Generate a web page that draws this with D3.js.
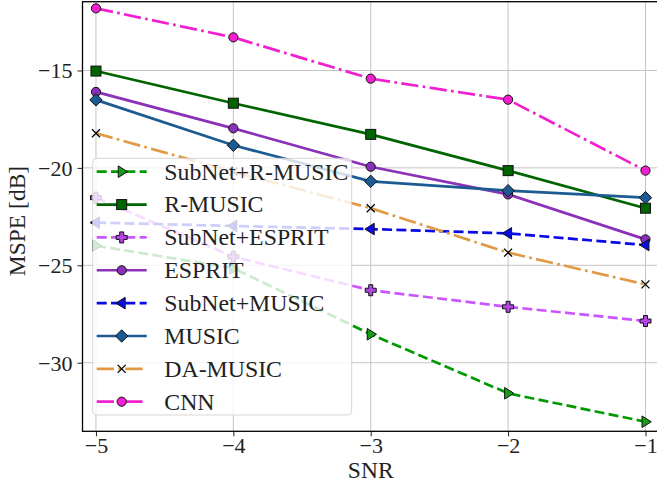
<!DOCTYPE html>
<html>
<head>
<meta charset="utf-8">
<script src="https://cdn.jsdelivr.net/npm/d3@7"></script>
<style>
  html, body { margin: 0; padding: 0; background: #fff; }
  svg { display: block; }
  text { font-family: "Liberation Serif", "Times New Roman", serif; fill: #222; }
</style>
</head>
<body>
<svg id="chart" width="657" height="489"></svg>
<script>
// ---- data ----
const snr = [-5, -4, -3, -2, -1];
const subnetRMusic = [-23.99, -25.15, -28.54, -31.57, -33.03];
const rMusic       = [-15.03, -16.68, -18.28, -20.14, -22.07];
const subnetEsprit = [-21.53, -24.56, -26.28, -27.13, -27.86];
const esprit       = [-16.10, -17.97, -19.94, -21.36, -23.67];
const subnetMusic  = [-22.81, -22.98, -23.14, -23.36, -23.96];
const music        = [-16.51, -18.84, -20.69, -21.17, -21.53];
const daMusic      = [-18.22, -20.20, -22.07, -24.35, -25.98];
const cnn          = [-11.81, -13.30, -15.42, -16.50, -20.14];
const seriesNames  = ["SubNet+R-MUSIC", "R-MUSIC", "SubNet+ESPRIT", "ESPRIT", "SubNet+MUSIC", "MUSIC", "DA-MUSIC", "CNN"];
const xTicks = [-5, -4, -3, -2, -1];
const yTicks = [-15, -20, -25, -30];
const xLabel = "SNR";
const yLabel = "MSPE [dB]";

// ---- styles ----
const styles = [
  {color: "#009a00", fill: "#1a9a1a", dash: "dashed", marker: "triR"},
  {color: "#006400", fill: "#006400", dash: "solid",  marker: "square"},
  {color: "#cc55ff", fill: "#b444e6", dash: "dashed", marker: "plus"},
  {color: "#8b30b8", fill: "#8b30b8", dash: "solid",  marker: "circle"},
  {color: "#0a0ae6", fill: "#0a0ae6", dash: "dashed", marker: "triL"},
  {color: "#1c5a92", fill: "#1c5a92", dash: "solid",  marker: "diamond"},
  {color: "#e09a45", fill: "none",    dash: "dashdot", marker: "x"},
  {color: "#f020d0", fill: "#f020d0", dash: "dashdot", marker: "circle"}
];
const seriesValues = [subnetRMusic, rMusic, subnetEsprit, esprit, subnetMusic, music, daMusic, cnn];

const LW = 2.7;
const dashMap = {
  solid: null,
  dashed: `${3.7*LW},${1.6*LW}`,
  dashdot: `${6.4*LW},${1.6*LW},${1*LW},${1.6*LW}`
};

const svg = d3.select("#chart");
const pL = 82.5, pR = 659.5, pT = 1.7, pB = 431.3;

const x = d3.scaleLinear().domain([-5.098, -0.898]).range([pL, pR]);
const y = d3.scaleLinear().domain([-33.52, -11.47]).range([pB, pT]);

// grid
const grid = svg.append("g");
grid.selectAll("line.gx").data(xTicks).enter().append("line")
  .attr("x1", d => x(d)).attr("x2", d => x(d)).attr("y1", pT).attr("y2", pB)
  .attr("stroke", "#c4c4c4").attr("stroke-width", 1);
grid.selectAll("line.gy").data(yTicks).enter().append("line")
  .attr("y1", d => y(d)).attr("y2", d => y(d)).attr("x1", pL).attr("x2", pR)
  .attr("stroke", "#c4c4c4").attr("stroke-width", 1);

// markers
function drawMarker(g, type, cx, cy, st) {
  const edge = "#111";
  const ew = 1;
  if (type === "circle") {
    g.append("circle").attr("cx", cx).attr("cy", cy).attr("r", 4.6)
      .attr("fill", st.fill).attr("stroke", edge).attr("stroke-width", ew);
  } else if (type === "square") {
    g.append("rect").attr("x", cx-5).attr("y", cy-5).attr("width", 10).attr("height", 10)
      .attr("fill", st.fill).attr("stroke", edge).attr("stroke-width", ew);
  } else if (type === "diamond") {
    const r = 6.2;
    g.append("path").attr("d", `M${cx},${cy-r}L${cx+r},${cy}L${cx},${cy+r}L${cx-r},${cy}Z`)
      .attr("fill", st.fill).attr("stroke", edge).attr("stroke-width", ew);
  } else if (type === "triR") {
    const r = 5.8;
    g.append("path").attr("d", `M${cx+r},${cy}L${cx-r*0.6},${cy-r}L${cx-r*0.6},${cy+r}Z`)
      .attr("fill", st.fill).attr("stroke", edge).attr("stroke-width", ew);
  } else if (type === "triL") {
    const r = 5.8;
    g.append("path").attr("d", `M${cx-r},${cy}L${cx+r*0.6},${cy-r}L${cx+r*0.6},${cy+r}Z`)
      .attr("fill", st.fill).attr("stroke", edge).attr("stroke-width", ew);
  } else if (type === "plus") {
    const a = 5.5, b = 2;
    g.append("path").attr("d",
      `M${cx-b},${cy-a}H${cx+b}V${cy-b}H${cx+a}V${cy+b}H${cx+b}V${cy+a}H${cx-b}V${cy+b}H${cx-a}V${cy-b}H${cx-b}Z`)
      .attr("fill", st.fill).attr("stroke", edge).attr("stroke-width", ew);
  } else if (type === "x") {
    const a = 4;
    g.append("path").attr("d", `M${cx-a},${cy-a}L${cx+a},${cy+a}M${cx-a},${cy+a}L${cx+a},${cy-a}`)
      .attr("stroke", "#000").attr("stroke-width", 1.3).attr("fill", "none");
  }
}

const plot = svg.append("g");
const lineGen = d3.line().x(d => x(d[0])).y(d => y(d[1]));
seriesValues.forEach((vals, i) => {
  const st = styles[i];
  const pts = snr.map((s, j) => [s, vals[j]]);
  const g = plot.append("g");
  g.append("path").attr("d", lineGen(pts))
    .attr("fill", "none").attr("stroke", st.color).attr("stroke-width", LW)
    .attr("stroke-dasharray", dashMap[st.dash])
    .attr("stroke-linejoin", "round");
  pts.forEach(p => drawMarker(g, st.marker, x(p[0]), y(p[1]), st));
});

// axes
const fmt = d => String(d).replace("-", "\u2212");
const xAxis = d3.axisBottom(x).tickValues(xTicks).tickSize(5).tickPadding(6).tickFormat(fmt);
const yAxis = d3.axisLeft(y).tickValues(yTicks).tickSize(5).tickPadding(6).tickFormat(fmt);

const gx = svg.append("g").attr("transform", `translate(0,${pB})`).call(xAxis);
const gy = svg.append("g").attr("transform", `translate(${pL},0)`).call(yAxis);
[gx, gy].forEach(g => {
  g.attr("font-family", "Liberation Serif").attr("font-size", 22);
  g.select(".domain").remove();
  g.selectAll(".tick line").attr("stroke", "#222").attr("stroke-width", 1);
  g.selectAll(".tick text").style("font-family", "'Liberation Serif', serif")
    .style("font-size", "22px").attr("fill", "#222");
});
gx.selectAll(".tick text").attr("y", 22).attr("dy", null);
gy.selectAll(".tick text").attr("x", -10).attr("dy", "0.34em");

// frame
svg.append("rect").attr("x", pL).attr("y", pT).attr("width", pR - pL).attr("height", pB - pT)
  .attr("fill", "none").attr("stroke", "#000").attr("stroke-width", 1.3);

// axis labels
svg.append("text").attr("x", (x(-5) + x(-1)) / 2).attr("y", 478)
  .attr("text-anchor", "middle").style("font-size", "23.5px").text(xLabel);
svg.append("text").attr("transform", `translate(25,221) rotate(-90)`)
  .attr("text-anchor", "middle").style("font-size", "23.5px").text(yLabel);

// legend
const lg = svg.append("g");
const lx = 92.7, ly = 158.3, lw = 259, lh = 256.7;
lg.append("rect").attr("x", lx).attr("y", ly).attr("width", lw).attr("height", lh)
  .attr("rx", 4).attr("fill", "rgba(255,255,255,0.8)")
  .attr("stroke", "rgba(204,204,204,0.8)").attr("stroke-width", 1);
const rowY = d3.scaleLinear().domain([0, 7]).range([171.7, 401.7]);
seriesNames.forEach((name, i) => {
  const st = styles[i];
  const cy = rowY(i);
  const g = lg.append("g");
  g.append("line").attr("x1", 96.7).attr("x2", 146.7).attr("y1", cy).attr("y2", cy)
    .attr("stroke", st.color).attr("stroke-width", LW)
    .attr("stroke-dasharray", dashMap[st.dash]);
  drawMarker(g, st.marker, 121.7, cy, st);
  g.append("text").attr("x", 164.3).attr("y", cy).attr("dy", "0.33em")
    .style("font-size", "23.8px").text(name);
});
</script>
</body>
</html>
